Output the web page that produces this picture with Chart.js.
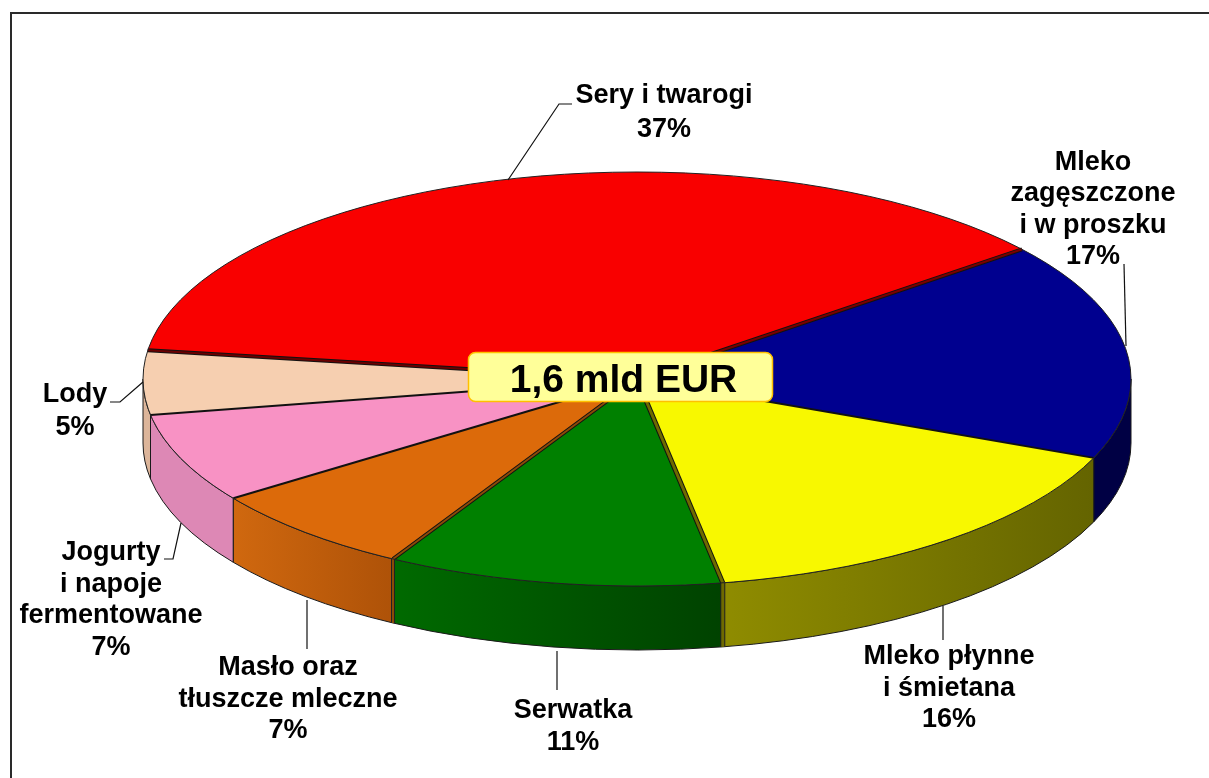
<!DOCTYPE html>
<html><head><meta charset="utf-8">
<script src="https://cdn.jsdelivr.net/npm/chart.js@4"></script>
<style>html,body{margin:0;padding:0;background:#fff;overflow:hidden}canvas{display:block}</style>
</head><body><canvas id="c" width="1209" height="778"></canvas>
<script>
// Data
const categories = ["Sery i twarogi","Mleko zagęszczone i w proszku","Mleko płynne i śmietana","Serwatka","Masło oraz tłuszcze mleczne","Jogurty i napoje fermentowane","Lody"];
const values = [37,17,16,11,7,7,5];
const centerTitle = "1,6 mld EUR";
const labelLines = [["Sery i twarogi"],["Mleko","zagęszczone","i w proszku"],["Mleko płynne","i śmietana"],["Serwatka"],["Masło oraz","tłuszcze mleczne"],["Jogurty","i napoje","fermentowane"],["Lody"]];

// Styles
const topColors = ["#f90000","#00008f","#f8f800","#008000","#dc6a0a","#f892c4","#f6cfb0"];
const wallFrom  = ["#800000","#000044","#8f8c00","#006a00","#d0680f","#dd88b5","#dcb59a"];
const wallTo    = ["#800000","#000044","#646400","#004200","#ae5208","#dd88b5","#dcb59a"];
const cutColors = ["#7a0000",null,"#6e6a00","#8a4a08",null,null,"#6a0000"];
const cutWidths = [3,2,4,3,2,2,3];

// Layout (ellipse of the pie in page pixels, label anchors, leader lines)
const PIE = {cx:637, cy:379, rx:494, ry:207, h:64};
const labelPos = [[664,103,34],[1093,170,31.4],[949,664,31.5],[573,718,32],[288,675,31.5],[111,560,31.7],[75,402,33]];
const leaders = [
  [[508,180],[559,104],[572,104]],
  [[1124,264],[1126,346]],
  [[943,606],[943,640]],
  [[557,651],[557,690]],
  [[307,600],[307,649]],
  [[181,523],[173,559],[164,559]],
  [[143,382],[120,402],[110,402]]
];
const FONT = '"Liberation Sans", Arial, sans-serif';

const TAU = Math.PI*2;
function lowerRange(a0,a1){
  // part of [a0,a1] facing the viewer (canvas angle 0..PI)
  let s = ((a0%TAU)+TAU)%TAU, e = s+(a1-a0);
  const out=[];
  [[0,Math.PI],[TAU,TAU+Math.PI]].forEach(([lo,hi])=>{
    const p=Math.max(s,lo), q=Math.min(e,hi);
    if(q>p) out.push([p,q]);
  });
  return out;
}
const ptAt = t => [PIE.cx+PIE.rx*Math.cos(t), PIE.cy+PIE.ry*Math.sin(t)];

const pie3d = {
  id:'pie3d',
  beforeDraw(chart){
    const c=chart.ctx;
    c.save();
    c.fillStyle='#fff'; c.fillRect(0,0,1209,778);
    c.strokeStyle='#2a2a2a'; c.lineWidth=2;
    c.beginPath(); c.moveTo(11,778); c.lineTo(11,13); c.lineTo(1209,13); c.stroke();
    c.restore();
  },
  beforeDatasetsDraw(chart){
    const c=chart.ctx, arcs=chart.getDatasetMeta(0).data;
    c.save();
    // side walls
    const order=[6,5,0,1,4,2,3];
    order.forEach(i=>{
      lowerRange(arcs[i].startAngle,arcs[i].endAngle).forEach(([p,q])=>{
        const A=ptAt(p),B=ptAt(q);
        const g=c.createLinearGradient(Math.max(A[0],B[0]),0,Math.min(A[0],B[0]),0);
        g.addColorStop(0,wallTo[i]==wallFrom[i]?wallFrom[i]:wallFrom[i]);
        g.addColorStop(1,wallTo[i]);
        const g2=c.createLinearGradient(Math.min(A[0],B[0]),0,Math.max(A[0],B[0]),0);
        g2.addColorStop(0,wallFrom[i]); g2.addColorStop(1,wallTo[i]);
        c.beginPath();
        c.ellipse(PIE.cx,PIE.cy,PIE.rx,PIE.ry,0,p,q);
        c.ellipse(PIE.cx,PIE.cy+PIE.h,PIE.rx,PIE.ry,0,q,p,true);
        c.closePath();
        c.fillStyle=g2; c.fill();
        c.strokeStyle='#1a1a1a'; c.lineWidth=1; c.stroke();
      });
    });
    c.restore();
    // pie faces: the library's own arcs, flattened to the ellipse
    const a=arcs[0], R=a.outerRadius;
    c.save();
    c.translate(PIE.cx,PIE.cy);
    c.scale(PIE.rx/R,PIE.ry/R);
    c.translate(-a.x,-a.y);
  },
  afterDatasetsDraw(chart){
    const c=chart.ctx, arcs=chart.getDatasetMeta(0).data;
    c.restore();
    c.save();
    // cut faces along the slice borders
    arcs.forEach((el,i)=>{
      const t=el.endAngle, E=ptAt(t), w=cutWidths[i], col=cutColors[i];
      c.lineCap='butt';
      c.beginPath(); c.moveTo(PIE.cx,PIE.cy); c.lineTo(E[0],E[1]);
      c.strokeStyle='#111'; c.lineWidth=col?w+1:w; c.stroke();
      if(col){ c.strokeStyle=col; c.lineWidth=w-1; c.stroke(); }
      const s=Math.sin(t);
      if(col && s>0){
        c.beginPath(); c.moveTo(E[0],E[1]); c.lineTo(E[0],E[1]+PIE.h);
        c.strokeStyle='#222'; c.lineWidth=w+1; c.stroke();
        c.strokeStyle=col; c.lineWidth=w-1; c.stroke();
      }
    });
    // outer rim
    c.beginPath(); c.ellipse(PIE.cx,PIE.cy,PIE.rx,PIE.ry,0,0,TAU);
    c.strokeStyle='#222'; c.lineWidth=1; c.stroke();
    // leaders
    c.strokeStyle='#111'; c.lineWidth=1.2;
    leaders.forEach(l=>{
      c.beginPath(); l.forEach((p,k)=>k?c.lineTo(p[0],p[1]):c.moveTo(p[0],p[1])); c.stroke();
    });
    // labels
    c.fillStyle='#000'; c.font='bold 27px '+FONT; c.textAlign='center'; c.textBaseline='alphabetic';
    labelLines.forEach((lines,i)=>{
      const [x,y,lh]=labelPos[i];
      [...lines, values[i]+'%'].forEach((t,k)=>c.fillText(t,x,y+k*lh));
    });
    // centre box
    c.beginPath(); c.roundRect(468.5,352.5,304,49,7);
    c.fillStyle='#ffff99'; c.fill();
    c.strokeStyle='#ffc000'; c.lineWidth=1.5; c.stroke();
    c.fillStyle='#000'; c.font='bold 39px '+FONT;
    c.fillText(centerTitle,623.5,392);
    c.restore();
  }
};

new Chart(document.getElementById('c'),{
  type:'pie',
  data:{labels:categories,datasets:[{data:values,backgroundColor:topColors,borderWidth:0,clip:false}]},
  options:{
    responsive:false,animation:false,rotation:278,
    layout:{padding:0},
    plugins:{legend:{display:false},tooltip:{enabled:false},title:{display:false}},
    events:[]
  },
  plugins:[pie3d]
});
</script></body></html>
